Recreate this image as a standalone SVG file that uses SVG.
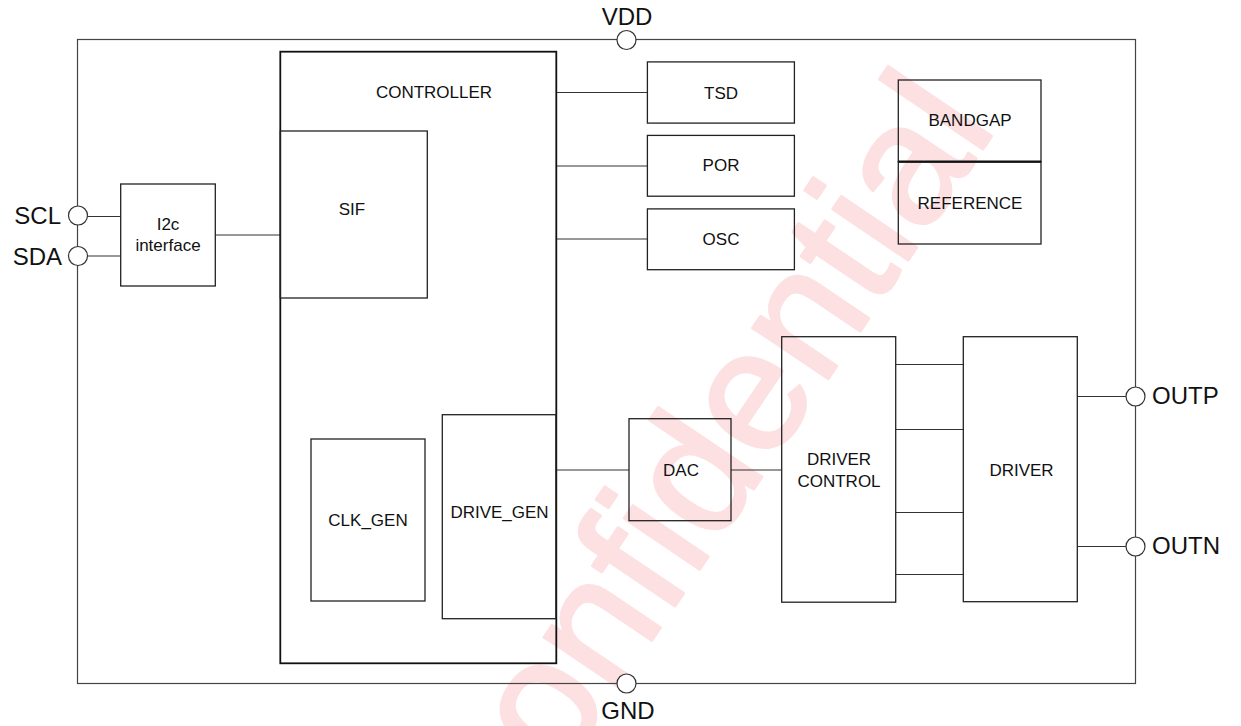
<svg xmlns="http://www.w3.org/2000/svg" width="1241" height="726" viewBox="0 0 1241 726">
<style>
.box{fill:none;stroke:#222;stroke-width:1.3}
.ctl{fill:none;stroke:#111;stroke-width:1.8}
.wire{fill:none;stroke:#333;stroke-width:1.2}
.pin{fill:#fff;stroke:#333;stroke-width:1.2}
.t{font-family:"Liberation Sans",Arial,sans-serif;font-size:17px;fill:#111;text-anchor:middle}
.p{font-family:"Liberation Sans",Arial,sans-serif;font-size:24px;fill:#111}
.wm{font-family:"Liberation Sans",Arial,sans-serif;font-size:172px;fill:#fde0e1;stroke:#fde0e1;stroke-width:3;stroke-linejoin:round}
</style>
<rect width="1241" height="726" fill="#fff"/>
<text class="wm" x="490" y="880" transform="rotate(-56 490 880)">Confidential</text>
<g id="border">
<rect x="77.5" y="39.5" width="1058" height="644" fill="none" stroke="#444" stroke-width="1.2"/>
</g>
<g id="connectors">
<line class="wire" x1="87" y1="216.5" x2="121" y2="216.5"/>
<line class="wire" x1="87" y1="256" x2="121" y2="256"/>
<line class="wire" x1="215" y1="235" x2="280" y2="235"/>
<line class="wire" x1="556" y1="92.5" x2="647" y2="92.5"/>
<line class="wire" x1="556" y1="166" x2="647" y2="166"/>
<line class="wire" x1="556" y1="239" x2="647" y2="239"/>
<line class="wire" x1="556" y1="470" x2="629" y2="470"/>
<line class="wire" x1="731" y1="470" x2="782" y2="470"/>
<line class="wire" x1="895.5" y1="364.5" x2="963.5" y2="364.5"/>
<line class="wire" x1="895.5" y1="429.5" x2="963.5" y2="429.5"/>
<line class="wire" x1="895.5" y1="512.5" x2="963.5" y2="512.5"/>
<line class="wire" x1="895.5" y1="574.5" x2="963.5" y2="574.5"/>
<line class="wire" x1="1077" y1="396.5" x2="1126" y2="396.5"/>
<line class="wire" x1="1077" y1="546.5" x2="1126" y2="546.5"/>
</g>
<g id="pin-vdd"><circle class="pin" cx="626.5" cy="40" r="9.5"/><text class="p" x="627" y="25" text-anchor="middle">VDD</text></g>
<g id="pin-gnd"><circle class="pin" cx="626.5" cy="683.5" r="9.5"/><text class="p" x="628" y="719" text-anchor="middle">GND</text></g>
<g id="pin-scl"><circle class="pin" cx="78" cy="215.5" r="9.5"/><text class="p" x="61" y="224" text-anchor="end">SCL</text></g>
<g id="pin-sda"><circle class="pin" cx="78" cy="256" r="9.5"/><text class="p" x="62" y="265" text-anchor="end">SDA</text></g>
<g id="pin-outp"><circle class="pin" cx="1135.5" cy="396.5" r="9.5"/><text class="p" x="1152" y="404">OUTP</text></g>
<g id="pin-outn"><circle class="pin" cx="1135.5" cy="546.5" r="9.5"/><text class="p" x="1152" y="554">OUTN</text></g>
<g id="i2c"><rect class="box" x="120.7" y="184" width="94.6" height="102"/><text class="t" x="168" y="230">I2c</text><text class="t" x="168" y="251">interface</text></g>
<g id="controller"><rect class="ctl" x="280.3" y="51.7" width="276" height="611.6"/><text class="t" x="434" y="98">CONTROLLER</text></g>
<g id="sif"><rect class="box" x="280.3" y="131" width="147" height="167"/><text class="t" x="352" y="215">SIF</text></g>
<g id="clk_gen"><rect class="box" x="311" y="439" width="114" height="162"/><text class="t" x="368" y="526">CLK_GEN</text></g>
<g id="drive_gen"><rect class="box" x="442.3" y="414.7" width="113.7" height="204"/><text class="t" x="499.5" y="518">DRIVE_GEN</text></g>
<g id="tsd"><rect class="box" x="647.4" y="61.9" width="147" height="61.2"/><text class="t" x="721" y="99">TSD</text></g>
<g id="por"><rect class="box" x="647.4" y="135.4" width="147" height="60.8"/><text class="t" x="721" y="171">POR</text></g>
<g id="osc"><rect class="box" x="647.4" y="208.9" width="147" height="60.8"/><text class="t" x="721" y="245">OSC</text></g>
<g id="bandgap"><rect class="box" x="898.3" y="80" width="142.7" height="81.7"/><text class="t" x="970" y="126">BANDGAP</text></g>
<g id="reference"><rect class="box" x="898.3" y="161.7" width="142.7" height="82.3"/><line x1="898.3" y1="161.7" x2="1041" y2="161.7" stroke="#111" stroke-width="2.2"/><text class="t" x="970" y="209">REFERENCE</text></g>
<g id="dac"><rect class="box" x="629" y="418.7" width="102" height="102"/><text class="t" x="681" y="476">DAC</text></g>
<g id="driver_control"><rect class="box" x="781.7" y="336.7" width="114" height="265.5"/><text class="t" x="839" y="465">DRIVER</text><text class="t" x="839" y="487">CONTROL</text></g>
<g id="driver"><rect class="box" x="963.3" y="336.7" width="114" height="265"/><text class="t" x="1021.5" y="476">DRIVER</text></g>
</svg>
